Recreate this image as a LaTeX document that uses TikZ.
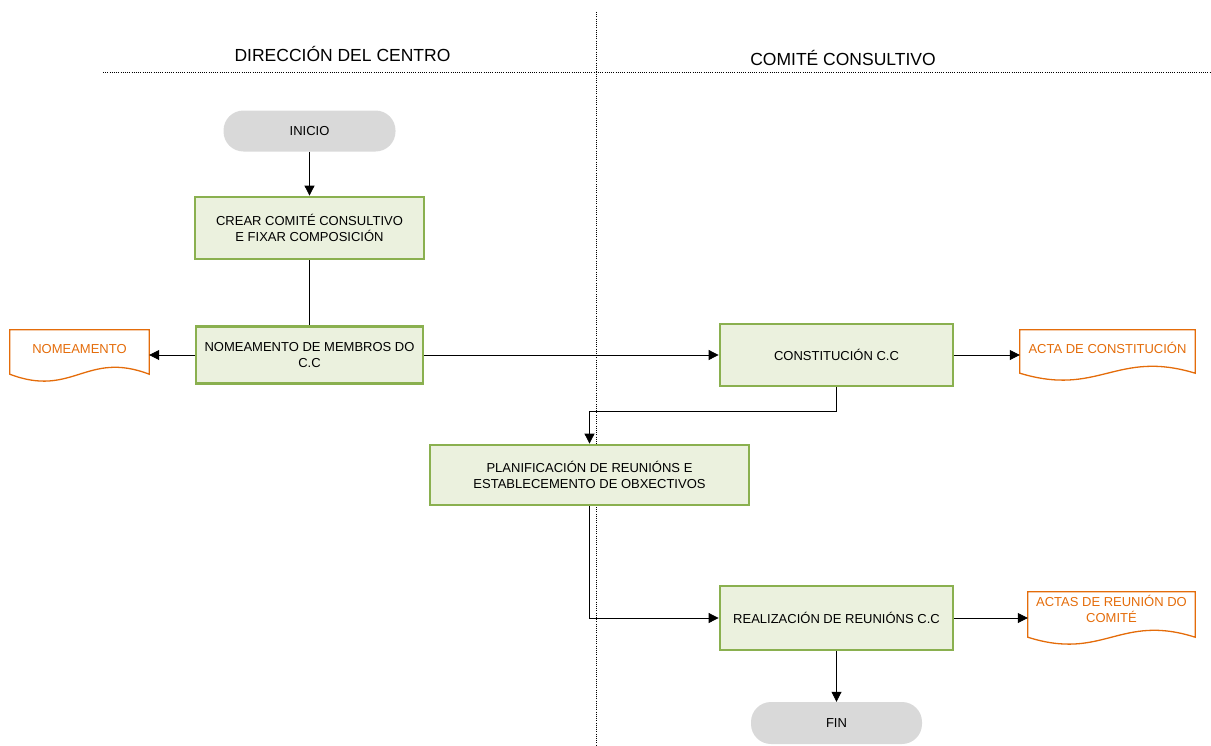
\documentclass[tikz,border=0pt]{standalone}
\usepackage{fontspec}
\setmainfont{Liberation Sans}
\usetikzlibrary{arrows.meta,calc}
\definecolor{boxfill}{HTML}{EBF1DE}
\definecolor{boxline}{HTML}{8AB04F}
\definecolor{pillfill}{HTML}{D9D9D9}
\definecolor{docorange}{HTML}{E46C0A}
\tikzset{
  procbox/.style={draw=boxline, line width=2.8pt, fill=boxfill, align=center, inner sep=2pt, font=\fontsize{13}{16}\selectfont},
  pill/.style={fill=pillfill, rounded corners=20pt, align=center, font=\fontsize{13}{16}\selectfont},
  docnode/.style={text=docorange, align=center, inner sep=0pt, font=\fontsize{13}{16}\selectfont},
  docline/.style={draw=docorange, line width=1.3pt},
  conn/.style={line width=0.8pt, -{Triangle[length=10pt,width=10pt]}},
  plainconn/.style={line width=0.8pt},
  sep/.style={line width=0.7pt, dash pattern=on 1pt off 1.2pt},
  header/.style={font=\fontsize{17.5}{20}\selectfont}
}
\newcommand{\docframe}[2]{%
  \draw[docline] (#1.north west) -- (#1.north east) -- ($(#1.south east)+(0,#2)$)
  .. controls ($(#1.south east)!0.45!(#1.south west)+(0,#2-24)$) and ($(#1.south west)!0.45!(#1.south east)+(0,#2+24)$) .. ($(#1.south west)+(0,#2)$) -- cycle;}
\begin{document}
\begin{tikzpicture}[x=1pt,y=-1pt]
\useasboundingbox (0,0) rectangle (1211,745);
% lane separators
\coordinate (vtop) at (596,12);
\coordinate (vbot) at (596,745);
\coordinate (hl) at (103,72);
\coordinate (hr) at (1211,72);
\draw[sep] (vtop) -- (vbot);
\draw[sep] (hl) -- (hr);
\node[header] (h1) at (342.5,54) {DIRECCIÓN DEL CENTRO};
\node[header] (h2) at (843,58) {COMITÉ CONSULTIVO};
% nodes
\node[pill, minimum width=172pt, minimum height=41pt] (ini) at (309.5,131) {INICIO};
\node[procbox, minimum width=229pt, minimum height=62pt] (crear) at (309.5,228) {CREAR COMITÉ CONSULTIVO\\E FIXAR COMPOSICIÓN};
\node[procbox, minimum width=227pt, minimum height=57pt] (nom) at (309.5,355) {NOMEAMENTO DE MEMBROS DO\\C.C};
\node[procbox, minimum width=233pt, minimum height=62pt] (con) at (836.5,355) {CONSTITUCIÓN C.C};
\node[procbox, minimum width=319pt, minimum height=60pt] (pla) at (589.5,475) {PLANIFICACIÓN DE REUNIÓNS E\\ESTABLECEMENTO DE OBXECTIVOS};
\node[procbox, minimum width=233pt, minimum height=64pt] (rea) at (836.5,618) {REALIZACIÓN DE REUNIÓNS C.C};
\node[pill, minimum width=171pt, minimum height=42pt] (fin) at (836.5,723) {FIN};
% documents
\node[docnode, minimum width=139pt, minimum height=38pt] (d1) at (79.5,349) {NOMEAMENTO};
\docframe{d1}{6}
\node[docnode, minimum width=175pt, minimum height=36pt] (d2) at (1107.5,348) {ACTA DE CONSTITUCIÓN};
\docframe{d2}{7}
\node[docnode, minimum width=167pt, minimum height=34pt] (d3) at (1111.5,609) {ACTAS DE REUNIÓN DO\\COMITÉ};
\docframe{d3}{11}
% connectors
\draw[conn] (ini) -- (crear);
\draw[plainconn] (crear) -- (nom);
\draw[conn] (nom.west) -- (nom.west -| d1.east);
\draw[conn] (nom.east) -- (con.west);
\draw[conn] (con.east) -- (con.east -| d2.west);
\draw[conn] (con.south) -- ++(0,24) -| (pla.north);
\draw[conn] (pla.south) |- (rea.west);
\draw[conn] (rea.east) -- (rea.east -| d3.west);
\draw[conn] (rea) -- (fin);
\end{tikzpicture}
\end{document}
